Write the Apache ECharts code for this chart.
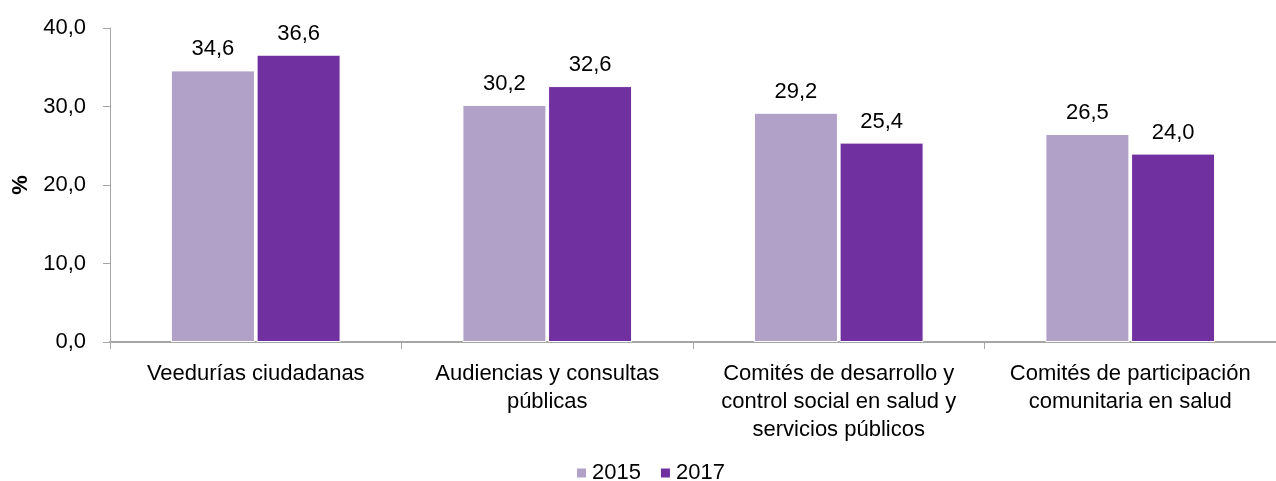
<!DOCTYPE html>
<html>
<head>
<meta charset="utf-8">
<script src="https://cdn.jsdelivr.net/npm/echarts@6/dist/echarts.min.js"></script>
<style>
  html, body { margin: 0; padding: 0; background: #fff; }
  #chart { width: 1276px; height: 481px; }
</style>
</head>
<body>
<div id="chart"></div>
<script>
var categories = [
  "Veedurías ciudadanas",
  "Audiencias y consultas\npúblicas",
  "Comités de desarrollo y\ncontrol social en salud y\nservicios públicos",
  "Comités de participación\ncomunitaria en salud"
];
var seriesNames = ["2015", "2017"];
var values2015 = [34.6, 30.2, 29.2, 26.5];
var values2017 = [36.6, 32.6, 25.4, 24.0];
var colors = ["#B1A0C7", "#7030A0"];

function fmt(v) {
  return Number(v).toFixed(1).replace(".", ",");
}

var chart = echarts.init(document.getElementById("chart"));

function makeSeries(name, data) {
  return {
    name: name,
    type: "bar",
    data: data,
    barWidth: 84,
    barGap: "2%",
    itemStyle: {
      borderColor: "#ffffff",
      borderWidth: 1
    },
    label: {
      show: true,
      position: "top",
      distance: 10,
      fontSize: 22,
      color: "#000",
      formatter: function (p) { return fmt(p.value); }
    }
  };
}

var options = {
  animation: false,
  color: colors,
  textStyle: {
    fontFamily: "Arial, 'Liberation Sans', sans-serif",
    color: "#000"
  },
  grid: {
    left: 110,
    right: -12,
    top: 28,
    bottom: 139,
    containLabel: false
  },
  legend: {
    data: seriesNames,
    left: 570,
    top: 457,
    itemWidth: 11,
    itemHeight: 11,
    itemGap: 18,
    icon: "rect",
    textStyle: { fontSize: 22, color: "#000" }
  },
  xAxis: [
    {
      type: "category",
      data: categories,
      axisLine: { show: true, lineStyle: { color: "#a6a6a6", width: 2 } },
      axisTick: { show: true, length: 7, lineStyle: { color: "#a6a6a6" } },
      axisLabel: {
        show: true,
        interval: 0,
        fontSize: 22,
        lineHeight: 28,
        margin: 18,
        color: "#000"
      },
      splitLine: { show: false }
    }
  ],
  yAxis: [
    {
      type: "value",
      min: 0,
      max: 40,
      interval: 10,
      name: "%",
      nameLocation: "middle",
      nameGap: 75,
      nameRotate: 90,
      nameTextStyle: { fontSize: 22, fontWeight: "bold", color: "#000" },
      axisLine: { show: true, lineStyle: { color: "#a6a6a6" } },
      axisTick: { show: true, length: 7, lineStyle: { color: "#a6a6a6" } },
      axisLabel: {
        fontSize: 22,
        margin: 24,
        color: "#000",
        formatter: function (v) { return fmt(v); }
      },
      splitLine: { show: false }
    }
  ],
  series: [
    makeSeries(seriesNames[0], values2015),
    makeSeries(seriesNames[1], values2017)
  ]
};

chart.setOption(options, true);
</script>
</body>
</html>
